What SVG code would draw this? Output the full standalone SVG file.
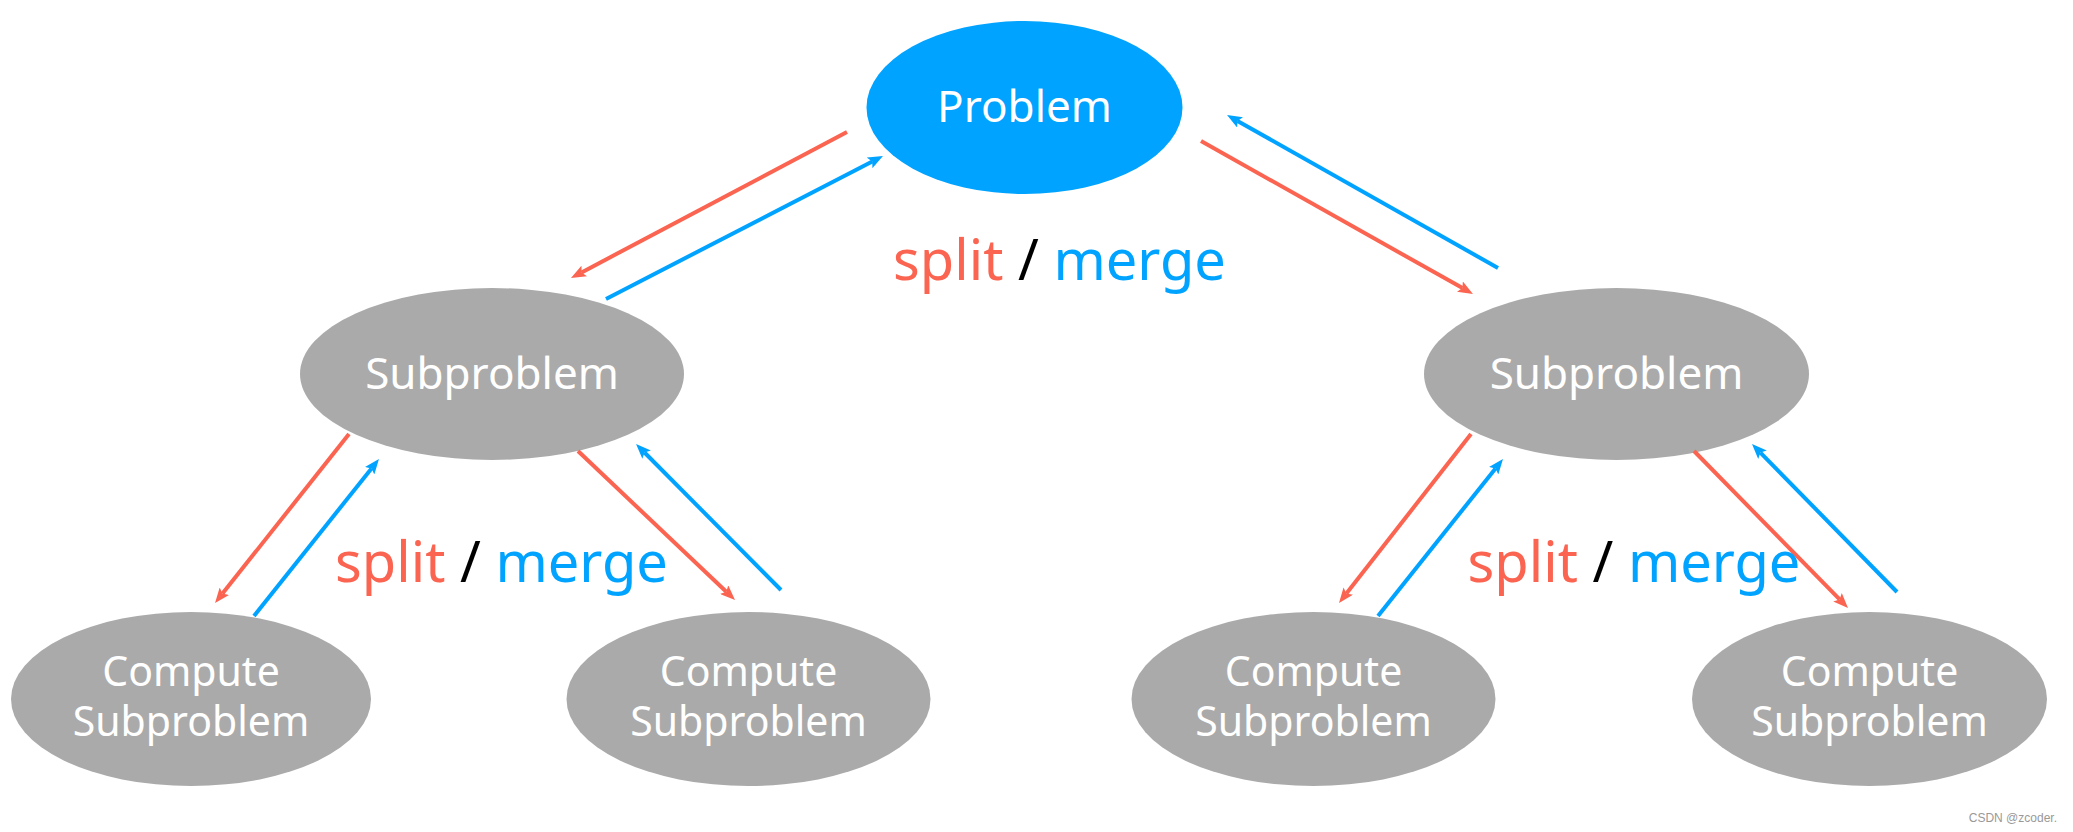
<svg xmlns="http://www.w3.org/2000/svg" width="2073" height="832" viewBox="0 0 2073 832">
<style>
.lbl{font-family:"Noto Sans","Open Sans",sans-serif;fill:#fff;text-anchor:middle}
.big{font-size:44px}
.small{font-size:41px}
.sm{font-family:"Noto Sans","Open Sans",sans-serif;font-size:56px;text-anchor:middle}
.red{stroke:#FA6450;stroke-width:4;fill:none}
.blue{stroke:#00A3FF;stroke-width:4;fill:none}
.gray{fill:#AAAAAA}
</style>
<defs>
<marker id="ar" viewBox="0 0 15 12" markerUnits="userSpaceOnUse" markerWidth="15" markerHeight="12" refX="3" refY="6" orient="auto"><path d="M0,0 L15,6 L0,12 L3,6 z" fill="#FA6450"/></marker>
<marker id="ab" viewBox="0 0 15 12" markerUnits="userSpaceOnUse" markerWidth="15" markerHeight="12" refX="3" refY="6" orient="auto"><path d="M0,0 L15,6 L0,12 L3,6 z" fill="#00A3FF"/></marker>
</defs>
<rect width="2073" height="832" fill="#fff"/>
<g id="problem"><ellipse cx="1024.5" cy="107.5" rx="158" ry="86.5" fill="#00A3FF"/><text class="lbl big" x="1024.5" y="122">Problem</text></g>
<g id="sub-left"><ellipse class="gray" cx="492" cy="374" rx="192" ry="86"/><text class="lbl big" x="492" y="389">Subproblem</text></g>
<g id="sub-right"><ellipse class="gray" cx="1616.5" cy="374" rx="192.5" ry="86"/><text class="lbl big" x="1616.5" y="389">Subproblem</text></g>
<g id="compute-1"><ellipse class="gray" cx="191" cy="699" rx="180" ry="87"/><text class="lbl small" x="191" y="686">Compute</text><text class="lbl small" x="191" y="736">Subproblem</text></g>
<g id="compute-2"><ellipse class="gray" cx="748.5" cy="699" rx="182" ry="87"/><text class="lbl small" x="748.5" y="686">Compute</text><text class="lbl small" x="748.5" y="736">Subproblem</text></g>
<g id="compute-3"><ellipse class="gray" cx="1313.5" cy="699" rx="182" ry="87"/><text class="lbl small" x="1313.5" y="686">Compute</text><text class="lbl small" x="1313.5" y="736">Subproblem</text></g>
<g id="compute-4"><ellipse class="gray" cx="1869.5" cy="699" rx="177.5" ry="87"/><text class="lbl small" x="1869.5" y="686">Compute</text><text class="lbl small" x="1869.5" y="736">Subproblem</text></g>
<g id="connectors">
<line class="red" x1="847" y1="132" x2="581.6" y2="272.4" marker-end="url(#ar)"/>
<line class="blue" x1="606" y1="299" x2="872.3" y2="161.5" marker-end="url(#ab)"/>
<line class="red" x1="1201" y1="141" x2="1462.5" y2="288.1" marker-end="url(#ar)"/>
<line class="blue" x1="1498" y1="268" x2="1237.5" y2="120.9" marker-end="url(#ab)"/>
<line class="red" x1="349" y1="434" x2="222.5" y2="593.6" marker-end="url(#ar)"/>
<line class="blue" x1="254" y1="616" x2="371.5" y2="468.4" marker-end="url(#ab)"/>
<line class="red" x1="578" y1="451" x2="726.3" y2="591.7" marker-end="url(#ar)"/>
<line class="blue" x1="781" y1="590" x2="644.5" y2="452.5" marker-end="url(#ab)"/>
<line class="red" x1="1471" y1="434" x2="1346.4" y2="593.5" marker-end="url(#ar)"/>
<line class="blue" x1="1378" y1="616" x2="1495.5" y2="468.4" marker-end="url(#ab)"/>
<line class="red" x1="1694" y1="451" x2="1839.6" y2="599.4" marker-end="url(#ar)"/>
<line class="blue" x1="1897" y1="592" x2="1760.4" y2="452.6" marker-end="url(#ab)"/>
</g>
<g id="labels">
<text class="sm" x="1059.5" y="280"><tspan fill="#FA6450">split</tspan><tspan fill="#000"> / </tspan><tspan fill="#00A3FF">merge</tspan></text>
<text class="sm" x="501.5" y="582"><tspan fill="#FA6450">split</tspan><tspan fill="#000"> / </tspan><tspan fill="#00A3FF">merge</tspan></text>
<text class="sm" x="1634" y="582"><tspan fill="#FA6450">split</tspan><tspan fill="#000"> / </tspan><tspan fill="#00A3FF">merge</tspan></text>
</g>
<text x="2057" y="822" font-family="Liberation Sans, Arial, sans-serif" font-size="12" fill="#999" text-anchor="end">CSDN @zcoder.</text>
</svg>
